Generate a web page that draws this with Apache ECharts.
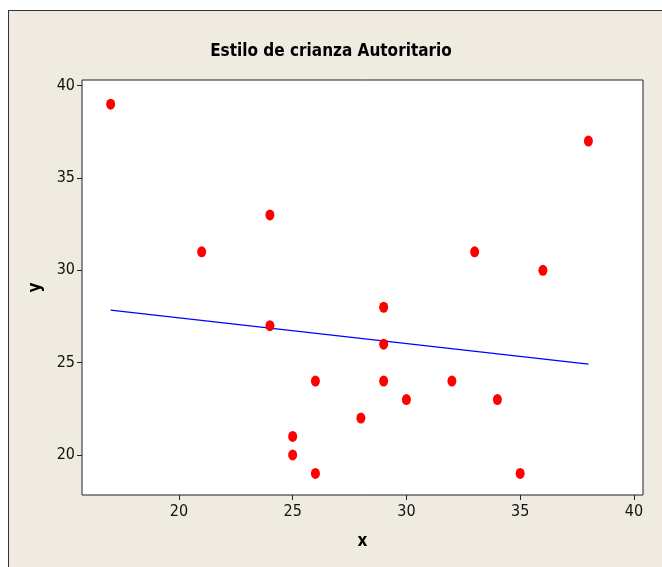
<!DOCTYPE html>
<html>
<head>
<meta charset="utf-8">
<script src="https://cdn.jsdelivr.net/npm/echarts@6/dist/echarts.min.js"></script>
<style>
  html, body { margin: 0; padding: 0; background: #fff; overflow: hidden; }
  #frame {
    position: absolute; left: 8px; top: 10px; width: 700px; height: 600px;
    background: #efebe1; border: 1px solid #333;
  }
  #chart { position: absolute; left: 0; top: 0; width: 662px; height: 567px; }
</style>
</head>
<body>
<div id="frame"></div>
<div id="chart"></div>
<script>
// data
const xValues = [17, 21, 24, 24, 25, 25, 26, 26, 28, 29, 29, 29, 30, 32, 33, 34, 35, 36, 38]
const yValues = [39, 31, 33, 27, 21, 20, 24, 19, 22, 28, 26, 24, 23, 24, 31, 23, 19, 30, 37]
const fitLine = [[17, 27.85], [38, 24.92]]
const xTicks = [20, 25, 30, 35, 40]
const yTicks = [20, 25, 30, 35, 40]

const chart = echarts.init(document.getElementById('chart'))
const narrow = '"DejaVu Sans Condensed", sans-serif'
const labelFont = { fontFamily: narrow, fontSize: 16, color: '#111' }
const nameFont = { fontFamily: narrow, fontWeight: 'bold', fontSize: 17, color: '#000' }

chart.setOption({
  animation: false,
  title: {
    text: 'Estilo de crianza Autoritario',
    left: 'center', top: 38,
    textStyle: { fontFamily: narrow, fontWeight: 'bold', fontSize: 17, color: '#000' }
  },
  grid: {
    left: 82, top: 80, right: 19, bottom: 72,
    show: true, backgroundColor: '#fff', borderColor: '#222', borderWidth: 1
  },
  xAxis: {
    type: 'value', min: 15.74, max: 40.4,
    name: 'x', nameLocation: 'middle', nameGap: 38,
    nameTextStyle: nameFont,
    axisLine: { show: false },
    axisTick: { show: true, length: 5, lineStyle: { color: '#222' }, customValues: xTicks },
    axisLabel: { ...labelFont, margin: 9, customValues: xTicks },
    splitLine: { show: false }
  },
  yAxis: {
    type: 'value', min: 17.83, max: 40.31,
    name: 'y', nameLocation: 'middle', nameGap: 38,
    nameTextStyle: nameFont,
    axisLine: { show: false },
    axisTick: { show: true, length: 5, lineStyle: { color: '#222' }, customValues: yTicks },
    axisLabel: { ...labelFont, margin: 7, customValues: yTicks },
    splitLine: { show: false }
  },
  series: [
    {
      type: 'line',
      data: fitLine,
      symbol: 'none',
      lineStyle: { color: '#0000ff', width: 1.3 },
      z: 2
    },
    {
      type: 'scatter',
      data: xValues.map((x, i) => [x, yValues[i]]),
      symbol: 'circle',
      symbolSize: [9, 11],
      itemStyle: { color: '#ff0000', opacity: 1 },
      z: 3
    }
  ]
})
</script>
</body>
</html>
